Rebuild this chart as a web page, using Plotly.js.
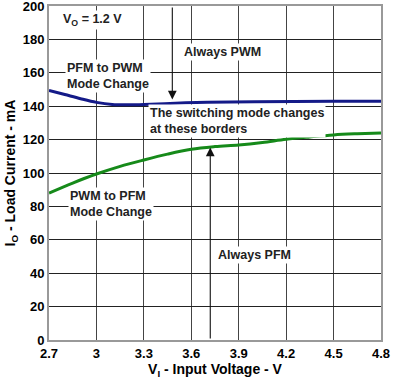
<!DOCTYPE html>
<html><head><meta charset="utf-8">
<script src="https://cdn.plot.ly/plotly-3.0.1.min.js"></script>
<style>html,body{margin:0;padding:0;background:#fff}#c{width:396px;height:383px}</style>
</head><body><div id="c"></div>
<script>
const pfmToPwmX = [2.7, 2.8, 2.9, 3.0, 3.1, 3.2, 3.3, 3.5, 3.7, 4.0, 4.5, 4.8];
const pfmToPwmY = [149.5, 147, 144.5, 142.3, 141, 140.8, 141, 141.8, 142.3, 142.7, 143, 143];
const pwmToPfmX = [2.7, 2.85, 3.0, 3.15, 3.3, 3.45, 3.6, 3.75, 3.9, 4.05, 4.2, 4.35, 4.5, 4.65, 4.8];
const pwmToPfmY = [88, 94, 99.4, 104, 107.8, 111.3, 114.2, 115.8, 116.8, 118.3, 120.2, 121.6, 122.8, 123.5, 124];
const xTicks = [2.7, 3, 3.3, 3.6, 3.9, 4.2, 4.5, 4.8];
const xTickText = ['2.7', '3', '3.3', '3.6', '3.9', '4.2', '4.5', '4.8'];
const yTicks = [0, 20, 40, 60, 80, 100, 120, 140, 160, 180, 200];

const font = {family: 'Liberation Sans, Arial, sans-serif', size: 13, color: '#000'};
const afont = {family: 'Liberation Sans, Arial, sans-serif', size: 12.5, color: '#222', weight: 'bold'};

const traces = [
  {x: pfmToPwmX, y: pfmToPwmY, mode: 'lines', line: {color: '#141a88', width: 3, shape: 'spline'}, hoverinfo: 'skip'},
  {x: pwmToPfmX, y: pwmToPfmY, mode: 'lines', line: {color: '#168a1a', width: 3, shape: 'spline'}, hoverinfo: 'skip'}
];

function label(text, x, y, align) {
  return {x: x, y: y, xref: 'x', yref: 'y', text: text, showarrow: false, bgcolor: '#fff',
    font: afont, align: align || 'left', borderpad: 1};
}
function arrow(x, y, ay) {
  return {x: x, y: y, ax: x, ay: ay, xref: 'x', yref: 'y', axref: 'x', ayref: 'y', text: '',
    showarrow: true, arrowhead: 2, arrowsize: 1.6, arrowwidth: 1.1, arrowcolor: '#111'};
}

const layout = {
  width: 396, height: 383,
  margin: {l: 49, r: 15, t: 6, b: 43},
  paper_bgcolor: '#fff', plot_bgcolor: '#fff',
  showlegend: false,
  font: font,
  xaxis: {
    range: [2.7, 4.8], tickvals: xTicks, ticktext: xTickText,
    tickfont: {family: font.family, size: 13, color: '#000', weight: 'bold'},
    showgrid: true, gridcolor: '#444', gridwidth: 1,
    showline: true, linecolor: '#999', linewidth: 2, mirror: true,
    zeroline: false, ticks: '', ticklen: 0, ticklabeloverflow: 'allow',
    title: {text: 'V<sub>I</sub> - Input Voltage - V', font: {family: font.family, size: 14, color: '#000', weight: 'bold'}, standoff: 2}
  },
  yaxis: {
    range: [0, 200], tickvals: yTicks,
    tickfont: {family: font.family, size: 13, color: '#000', weight: 'bold'},
    showgrid: true, gridcolor: '#222', gridwidth: 1,
    showline: true, linecolor: '#999', linewidth: 2, mirror: true,
    zeroline: false, ticks: '', ticklen: 0, ticklabeloverflow: 'allow',
    title: {text: 'I<sub>O</sub> - Load Current - mA', font: {family: font.family, size: 14, color: '#000', weight: 'bold'}, standoff: 4}
  },
  annotations: [
    arrow(3.48, 144, 200),
    arrow(3.72, 115.3, 0),
    label('V<sub>O</sub> = 1.2 V', 2.978, 191.6),
    label('Always PWM', 3.795, 172.5),
    label('PFM to PWM<br>Mode Change', 3.07, 157.8),
    label('The switching mode changes<br>at these borders', 3.89, 131.3),
    label('PWM to PFM<br>Mode Change', 3.092, 81.4),
    label('Always PFM', 3.997, 50.9)
  ]
};
Plotly.newPlot('c', traces, layout, {staticPlot: true, displayModeBar: false});
</script></body></html>
